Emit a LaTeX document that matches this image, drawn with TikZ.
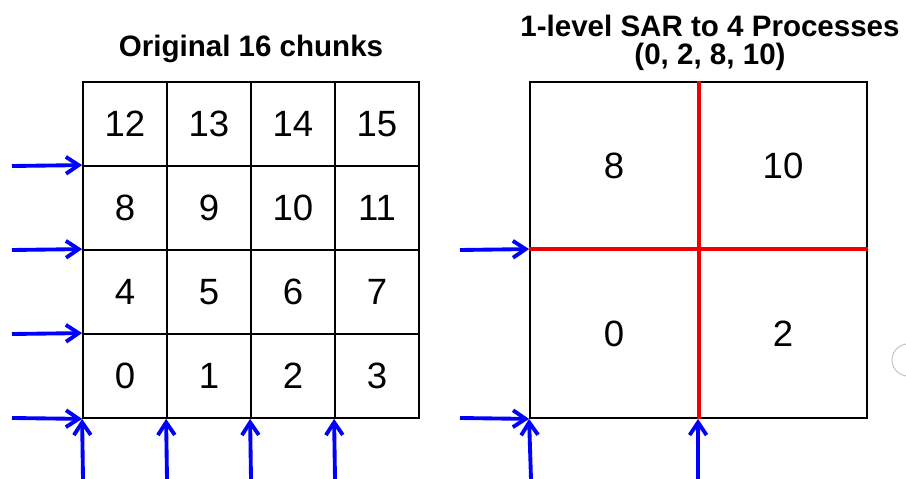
\documentclass[tikz,border=0pt]{standalone}
\usepackage{fontspec}
\setmainfont{Liberation Sans}
\usetikzlibrary{arrows.meta}
\definecolor{feedA}{RGB}{0, 0, 255}
\definecolor{cutA} {RGB}{240, 0, 0}

\tikzset{
  chunk/.style={draw, line width=0.5pt, minimum size=0.84cm, inner sep=0pt,
                font=\fontsize{10.4}{11}\selectfont},
  quad/.style={draw, line width=0.5pt, minimum size=1.68cm, inner sep=0pt,
               font=\fontsize{10.4}{11}\selectfont},
  feed/.style={draw, color=feedA, line width=1.1pt,
               -{Straight Barb[length=3.6pt, width=4.8pt]}},
  cut/.style={draw, color=cutA, line width=1.05pt},
  heading/.style={font=\bfseries\fontsize{8.4}{8}\selectfont, inner sep=0pt}
}

\begin{document}
\begin{tikzpicture}[x=0.01cm, y=-0.01cm]
  \useasboundingbox (0,0) rectangle (906,479);

  % titles
  \node[heading, anchor=base] (titleL) at (251,57) {Original 16 chunks};
  \node[heading, anchor=north, align=center] (titleR) at (710,14)
    {1-level SAR to 4 Processes\\(0, 2, 8, 10)};

  % the 4x4 chunk grid
  \node[chunk] (c0)  at (125,376) {0};
  \node[chunk] (c1)  at (209,376) {1};
  \node[chunk] (c2)  at (293,376) {2};
  \node[chunk] (c3)  at (377,376) {3};
  \node[chunk] (c4)  at (125,292) {4};
  \node[chunk] (c5)  at (209,292) {5};
  \node[chunk] (c6)  at (293,292) {6};
  \node[chunk] (c7)  at (377,292) {7};
  \node[chunk] (c8)  at (125,208) {8};
  \node[chunk] (c9)  at (209,208) {9};
  \node[chunk] (c10) at (293,208) {10};
  \node[chunk] (c11) at (377,208) {11};
  \node[chunk] (c12) at (125,124) {12};
  \node[chunk] (c13) at (209,124) {13};
  \node[chunk] (c14) at (293,124) {14};
  \node[chunk] (c15) at (377,124) {15};

  % the four processes
  \node[quad] (q0)  at (614,334) {0};
  \node[quad] (q2)  at (783,334) {2};
  \node[quad] (q8)  at (614,166) {8};
  \node[quad] (q10) at (783,166) {10};

  \path[cut] (q8.north east) -- (q0.south east);
  \path[cut] (q0.north west) -- (q2.north east);

  % incoming rows and columns, left
  \coordinate (rowA) at (12,166);
  \coordinate (rowB) at (12,250);
  \coordinate (rowC) at (12,334);
  \coordinate (rowD) at (12,418);
  \coordinate (colA) at (83,479);
  \coordinate (colB) at (167,479);
  \coordinate (colC) at (251,479);
  \coordinate (colD) at (335,479);

  \path[feed] (rowA) -- (c8.north west);
  \path[feed] (rowB) -- (c4.north west);
  \path[feed] (rowC) -- (c0.north west);
  \path[feed] (rowD) -- (c0.south west);
  \path[feed] (colA) -- (c0.south west);
  \path[feed] (colB) -- (c1.south west);
  \path[feed] (colC) -- (c2.south west);
  \path[feed] (colD) -- (c3.south west);

  % incoming rows and columns, right
  \coordinate (rowE) at (460,250);
  \coordinate (rowF) at (460,418);
  \coordinate (colE) at (531,479);
  \coordinate (colF) at (698,479);

  \path[feed] (rowE) -- (q0.north west);
  \path[feed] (rowF) -- (q0.south west);
  \path[feed] (colE) -- (q0.south west);
  \path[feed] (colF) -- (q2.south west);

  % stray knob on the edge
  \clip (0,0) rectangle (906,479);
  \draw[gray!45, line width=0.3pt] (908,360) circle (16);
\end{tikzpicture}
\end{document}
